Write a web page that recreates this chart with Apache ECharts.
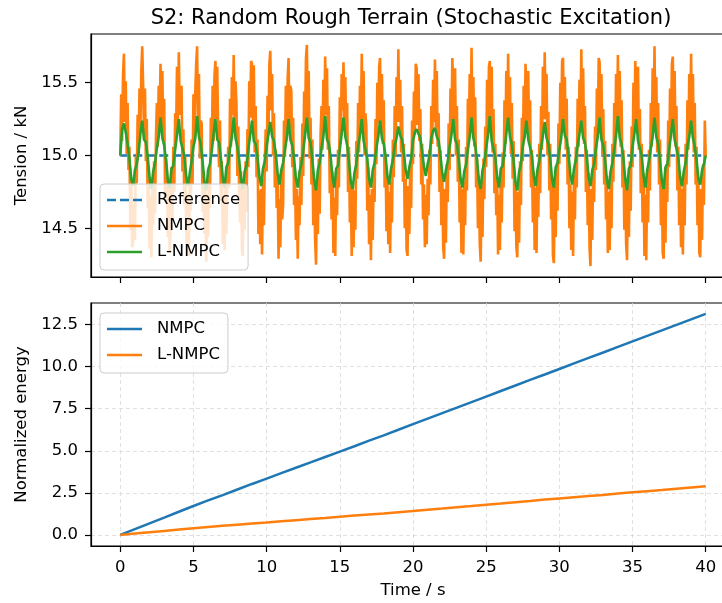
<!DOCTYPE html>
<html><head><meta charset="utf-8">
<script src="https://cdn.jsdelivr.net/npm/echarts@6/dist/echarts.min.js"></script>
<style>html,body{margin:0;padding:0;background:#fff}#c{width:722px;height:603px}</style>
</head><body><div id="c"></div>
<script>
const chartTitle = 'S2: Random Rough Terrain (Stochastic Excitation)';
const nmpcStep = 0.0625;
const lnmpcStep = 0.125;
const refTime = [0, 40];
const refTension = [15.0, 15.0];
const nmpcTension = [
15.00,15.42,15.10,15.55,
15.70,15.23,15.51,15.01,15.36,14.90,15.06,14.49,14.82,14.37,14.40,14.67,14.42,14.99,14.81,15.28,14.99,15.46,15.18,15.58,
15.75,15.48,15.11,15.46,14.96,15.25,14.64,14.84,14.36,14.72,14.30,14.77,14.52,14.96,14.60,15.12,15.36,15.06,15.48,15.25,
15.63,15.18,15.58,15.11,15.39,14.72,14.98,14.89,14.44,14.82,14.33,14.47,14.92,14.56,15.06,14.75,15.29,15.14,15.61,15.21,
15.71,15.28,15.31,15.48,14.89,15.18,14.66,14.99,14.49,14.33,14.73,14.31,14.84,14.62,15.11,14.80,15.42,15.11,15.44,15.63,
15.75,15.21,15.56,14.98,15.24,15.22,14.61,14.89,14.46,14.79,14.27,14.72,14.44,14.92,14.64,15.26,15.04,15.48,15.10,15.55,
15.65,15.25,15.61,15.16,14.92,15.24,14.68,14.96,14.39,14.69,14.35,14.79,14.46,14.84,15.06,14.78,15.39,15.06,15.54,15.28,
15.69,15.17,15.51,15.36,14.86,15.20,14.74,14.54,14.89,14.35,14.31,14.83,14.49,14.96,14.61,15.18,14.92,15.51,15.26,15.65,
15.63,15.23,15.62,15.02,15.34,14.85,15.11,14.46,14.76,14.39,14.77,14.32,14.84,14.52,14.96,15.18,14.89,15.41,15.14,15.63,
15.72,15.31,15.56,15.00,15.29,14.78,15.04,14.64,14.88,14.29,14.70,14.37,14.90,14.56,14.66,15.24,14.99,15.48,15.11,15.53,
15.67,15.18,15.48,15.44,14.92,15.26,14.66,14.89,14.42,14.77,14.29,14.72,14.52,14.99,14.66,15.22,14.86,15.44,15.21,15.67,
15.76,15.23,15.58,14.98,15.26,14.80,15.11,14.52,14.79,14.42,14.25,14.77,14.46,14.98,14.60,15.15,15.34,15.04,15.52,15.23,
15.68,15.28,15.60,15.04,15.34,14.74,14.96,14.56,14.89,14.33,14.71,14.31,14.86,14.59,15.04,14.78,15.40,15.08,15.56,15.31,
15.64,15.19,15.54,15.14,15.36,14.75,15.06,14.54,14.79,14.31,14.77,14.37,14.76,14.49,15.10,14.84,15.36,15.02,15.48,15.23,
15.70,15.25,15.58,15.00,15.29,15.20,14.62,14.92,14.39,14.73,14.28,14.77,14.42,14.89,14.68,15.25,14.94,15.50,15.22,15.61,
15.67,15.17,15.56,15.08,15.38,14.78,15.01,14.48,14.86,14.39,14.75,14.33,14.82,14.54,15.11,14.85,15.34,15.00,15.54,15.23,
15.73,15.23,15.52,15.02,15.34,14.82,15.08,14.50,14.84,14.35,14.31,14.79,14.46,14.94,14.64,15.24,14.94,15.44,15.14,15.63,
15.60,15.21,15.56,15.10,15.32,14.80,15.08,14.56,14.80,14.37,14.73,14.39,14.84,14.59,15.04,14.80,15.34,15.08,15.52,15.23,
15.66,15.19,15.58,15.06,15.29,14.75,15.04,14.52,14.88,14.37,14.29,14.77,14.40,14.94,14.68,15.22,14.90,15.46,15.20,15.67,
15.68,15.23,15.60,15.00,15.34,14.82,15.11,14.54,14.79,14.33,14.77,14.32,14.82,14.52,15.06,14.76,15.39,15.11,15.56,15.21,
15.74,15.18,15.54,15.06,15.40,14.78,14.98,14.50,14.86,14.39,14.27,14.79,14.44,14.98,14.70,15.20,14.92,15.52,15.16,15.61,
15.65,15.25,15.61,15.02,15.32,14.74,15.08,14.59,14.84,14.32,14.73,14.35,14.88,14.54,15.02,14.78,15.38,15.08,15.58,15.19,
15.70,15.21,15.54,15.01,15.36,14.84,15.10,14.48,14.82,14.37,14.30,14.75,14.40,14.96,14.66,15.26,14.96,15.48,15.12,15.63,
15.62,15.18,15.58,15.08,15.38,14.78,15.04,14.54,14.89,14.35,14.78,14.33,14.84,14.58,15.08,14.74,15.34,15.04,15.61,15.25,
15.71,15.25,15.56,15.00,15.30,14.76,15.08,14.56,14.84,14.31,14.26,14.79,14.44,14.92,14.62,15.22,14.94,15.50,15.18,15.65,
15.67,15.19,15.54,15.04,15.39,14.80,15.06,14.50,14.80,14.35,14.75,14.31,14.86,14.56,15.06,14.78,15.39,15.06,15.52,15.21,
15.73,15.23,15.60,15.08,15.34,14.75,15.04,14.52,14.88,14.37,14.24,14.77,14.42,14.99,14.68,15.20,14.90,15.46,15.14,15.67,
15.64,15.21,15.56,15.01,15.32,14.80,15.10,14.56,14.86,14.33,14.75,14.35,14.82,14.50,15.08,14.82,15.36,15.01,15.56,15.23,
15.69,15.18,15.58,15.06,15.38,14.78,15.04,14.49,14.84,14.39,14.28,14.79,14.44,14.96,14.62,15.20,14.92,15.50,15.18,15.65,
15.66,15.23,15.61,15.04,15.32,14.74,15.08,14.54,14.88,14.31,14.73,14.28,14.86,14.54,15.04,14.76,15.36,15.06,15.60,15.21,
15.75,15.21,15.54,15.02,15.36,14.80,15.11,14.52,14.82,14.33,14.29,14.77,14.40,14.94,14.68,15.24,14.92,15.46,15.12,15.63,
15.68,15.19,15.58,15.06,15.34,14.76,15.06,14.52,14.86,14.37,14.77,14.32,14.84,14.52,15.08,14.80,15.38,15.04,15.56,15.21,
15.70,15.21,15.56,15.02,15.36,14.80,15.06,14.52,14.82,14.33,14.30,14.77,14.42,14.94,14.66,15.24,14.99
];
const lnmpcTension = [
15.00,15.18,
15.22,15.16,15.08,14.98,14.84,14.79,14.90,14.94,15.02,15.15,
15.24,15.11,15.09,14.99,14.85,14.77,14.89,14.95,15.05,15.13,
15.26,15.12,15.07,14.97,14.83,14.78,14.91,14.93,15.04,15.14,
15.25,15.10,15.10,15.00,14.86,14.79,14.88,14.96,15.06,15.12,
15.27,15.13,15.08,14.96,14.82,14.76,14.90,14.94,15.03,15.15,
15.25,15.11,15.09,14.98,14.85,14.78,14.92,14.95,15.05,15.13,
15.26,15.12,15.06,14.97,14.84,14.77,14.89,14.93,15.04,15.14,
15.24,15.10,15.08,14.99,14.86,14.79,14.91,14.96,15.06,15.15,
15.23,15.13,15.10,15.01,14.88,14.80,14.90,14.95,15.04,15.12,
15.25,15.11,15.07,14.98,14.84,14.78,14.89,14.94,15.03,15.14,
15.26,15.12,15.09,14.97,14.83,14.76,14.90,14.95,15.05,15.13,
15.27,15.11,15.08,14.99,14.85,14.78,14.91,14.93,15.04,15.15,
15.26,15.13,15.07,14.96,14.82,14.77,14.88,14.94,15.06,15.14,
15.25,15.10,15.09,14.98,14.84,14.78,14.90,14.95,15.05,15.13,
15.24,15.12,15.08,15.00,14.86,14.80,14.91,14.97,15.07,15.12,
15.20,15.14,15.11,15.02,14.90,14.84,14.92,14.98,15.10,15.16,
15.18,15.15,15.12,15.03,14.92,14.86,14.94,15.00,15.12,15.17,
15.19,15.13,15.10,15.00,14.88,14.82,14.90,14.96,15.06,15.14,
15.25,15.11,15.08,14.98,14.84,14.78,14.89,14.94,15.04,15.13,
15.26,15.12,15.07,14.97,14.83,14.77,14.90,14.95,15.05,15.14,
15.27,15.10,15.09,14.99,14.85,14.78,14.91,14.93,15.03,15.15,
15.26,15.13,15.08,14.96,14.82,14.76,14.89,14.94,15.06,15.13,
15.24,15.11,15.10,15.00,14.86,14.79,14.90,14.96,15.05,15.14,
15.23,15.12,15.08,14.98,14.84,14.78,14.92,14.95,15.04,15.12,
15.25,15.14,15.11,15.01,14.87,14.80,14.91,14.97,15.07,15.15,
15.24,15.12,15.09,14.99,14.85,14.79,14.90,14.94,15.05,15.13,
15.26,15.11,15.07,14.97,14.83,14.77,14.89,14.95,15.04,15.14,
15.27,15.12,15.08,14.98,14.84,14.76,14.91,14.93,15.06,15.15,
15.25,15.10,15.09,15.00,14.86,14.78,14.90,14.96,15.05,15.13,
15.26,15.13,15.08,14.97,14.83,14.77,14.92,14.94,15.04,15.14,
15.25,15.11,15.10,14.99,14.85,14.79,14.89,14.95,15.06,15.13,
15.24,15.12,15.06,14.97,14.84,14.80,14.90,14.94,15.00
];
const energyTime = [0,1,2,3,4,5,6,7,8,9,10,11,12,13,14,15,16,17,18,19,20,21,22,23,24,25,26,27,28,29,30,31,32,33,34,35,36,37,38,39,40];
const energyNMPC = [0,0.35,0.69,1.03,1.38,1.72,2.05,2.37,2.70,3.03,3.35,3.67,3.99,4.31,4.63,4.95,5.27,5.60,5.92,6.25,6.58,6.91,7.24,7.56,7.89,8.22,8.55,8.88,9.21,9.53,9.86,10.19,10.52,10.84,11.17,11.50,11.83,12.15,12.48,12.81,13.13];
const energyLNMPC = [0,0.08,0.16,0.24,0.32,0.40,0.47,0.54,0.61,0.68,0.74,0.81,0.88,0.95,1.01,1.08,1.15,1.22,1.28,1.35,1.42,1.50,1.57,1.65,1.72,1.80,1.87,1.95,2.02,2.10,2.17,2.24,2.31,2.38,2.46,2.53,2.60,2.67,2.75,2.82,2.89];
const timeTicks = [0,5,10,15,20,25,30,35,40];
const tensionTicks = [14.5,15.0,15.5];
const energyTicks = [0,2.5,5.0,7.5,10.0,12.5];

const F = 'DejaVu Sans';
const C = ['#1f77b4','#ff7f0e','#2ca02c'];
const pair = (xs, ys) => ys.map((v, i) => [xs[i], v]);
const nmpcTime = nmpcTension.map((_, i) => i * nmpcStep);
const lnmpcTime = lnmpcTension.map((_, i) => i * lnmpcStep);
const solidIcon = 'path://M0,0h35v2.5h-35z';
const dashIcon = 'path://M0,0h9v2.5h-9zM13,0h9v2.5h-9zM26,0h9v2.5h-9z';

function xAx(idx, showLabel) {
  return {
    type: 'value', gridIndex: idx, min: -2, max: 42,
    axisLine: { show: true, onZero: false, lineStyle: { color: '#000', width: 1.2 } },
    axisTick: { show: true, length: 6, customValues: timeTicks, lineStyle: { color: '#000', width: 1.2 } },
    axisLabel: { show: showLabel, customValues: timeTicks, margin: 13, color: '#000', fontFamily: F, fontSize: 16.5 },
    splitLine: { show: idx === 1, lineStyle: { color: '#d8d8d8', type: [4, 3], width: 0.8 } },
    name: showLabel ? 'Time / s' : '', nameLocation: 'middle', nameGap: 36,
    nameTextStyle: { color: '#000', fontFamily: F, fontSize: 16.5 }
  };
}
function yAx(idx, min, max, ticks, name, showSplit) {
  return {
    type: 'value', gridIndex: idx, min: min, max: max,
    axisLine: { show: true, onZero: false, lineStyle: { color: '#000', width: 1.2 } },
    axisTick: { show: true, length: 6, customValues: ticks, lineStyle: { color: '#000', width: 1.2 } },
    axisLabel: { customValues: ticks, margin: 13, color: '#000', fontFamily: F, fontSize: 16.5, formatter: v => v.toFixed(1) },
    splitLine: { show: showSplit, lineStyle: { color: '#d8d8d8', type: [4, 3], width: 0.8 } },
    name: name, nameLocation: 'middle', nameGap: 56,
    nameTextStyle: { color: '#000', fontFamily: F, fontSize: 16.5 }
  };
}
const legendBase = {
  orient: 'vertical', left: 100, itemWidth: 35, itemHeight: 2.5, itemGap: 6,
  backgroundColor: 'rgba(255,255,255,0.8)', borderColor: '#cccccc', borderWidth: 1, borderRadius: 4,
  padding: [6, 8, 8, 7], selectedMode: false,
  textStyle: { color: '#000', fontFamily: F, fontSize: 16.5, lineHeight: 20, padding: [0, 0, 0, 10] }
};
const chart = echarts.init(document.getElementById('c'), null, { renderer: 'canvas' });
chart.setOption({
  animation: false,
  backgroundColor: '#fff',
  title: { text: chartTitle, left: 406, top: 3, textAlign: 'center',
    textStyle: { color: '#000', fontFamily: F, fontSize: 21, fontWeight: 'normal' } },
  grid: [
    { left: 91, width: 644, top: 34, height: 243, show: true, borderColor: '#000', borderWidth: 1.2,
      backgroundColor: 'transparent', outerBoundsMode: 'none', containLabel: false },
    { left: 91, width: 644, top: 303, height: 243, show: true, borderColor: '#000', borderWidth: 1.2,
      backgroundColor: 'transparent', outerBoundsMode: 'none', containLabel: false }
  ],
  xAxis: [xAx(0, false), xAx(1, true)],
  yAxis: [
    yAx(0, 14.165, 15.835, tensionTicks, 'Tension / kN', false),
    yAx(1, -0.656, 13.78, energyTicks, 'Normalized energy', true)
  ],
  legend: [
    Object.assign({}, legendBase, { top: 184, data: [
      { name: 'Reference', icon: dashIcon }, { name: 'NMPC', icon: solidIcon }, { name: 'L-NMPC', icon: solidIcon }] }),
    Object.assign({}, legendBase, { top: 313, data: [
      { name: 'NMPC energy', icon: solidIcon }, { name: 'L-NMPC energy', icon: solidIcon }],
      formatter: n => n.replace(' energy', '') })
  ],
  series: [
    { name: 'Reference', type: 'line', xAxisIndex: 0, yAxisIndex: 0, data: pair(refTime, refTension),
      showSymbol: false, symbol: 'none', color: C[0], lineStyle: { color: C[0], width: 2.5, type: [9, 4] } },
    { name: 'NMPC', type: 'line', xAxisIndex: 0, yAxisIndex: 0, data: pair(nmpcTime, nmpcTension),
      showSymbol: false, symbol: 'none', color: C[1], lineStyle: { color: C[1], width: 2.6 } },
    { name: 'L-NMPC', type: 'line', xAxisIndex: 0, yAxisIndex: 0, data: pair(lnmpcTime, lnmpcTension),
      showSymbol: false, symbol: 'none', color: C[2], lineStyle: { color: C[2], width: 2.6 } },
    { name: 'NMPC energy', type: 'line', xAxisIndex: 1, yAxisIndex: 1, data: pair(energyTime, energyNMPC),
      showSymbol: false, symbol: 'none', color: C[0], lineStyle: { color: C[0], width: 2.5 } },
    { name: 'L-NMPC energy', type: 'line', xAxisIndex: 1, yAxisIndex: 1, data: pair(energyTime, energyLNMPC),
      showSymbol: false, symbol: 'none', color: C[1], lineStyle: { color: C[1], width: 2.5 } }
  ]
});
</script></body></html>
